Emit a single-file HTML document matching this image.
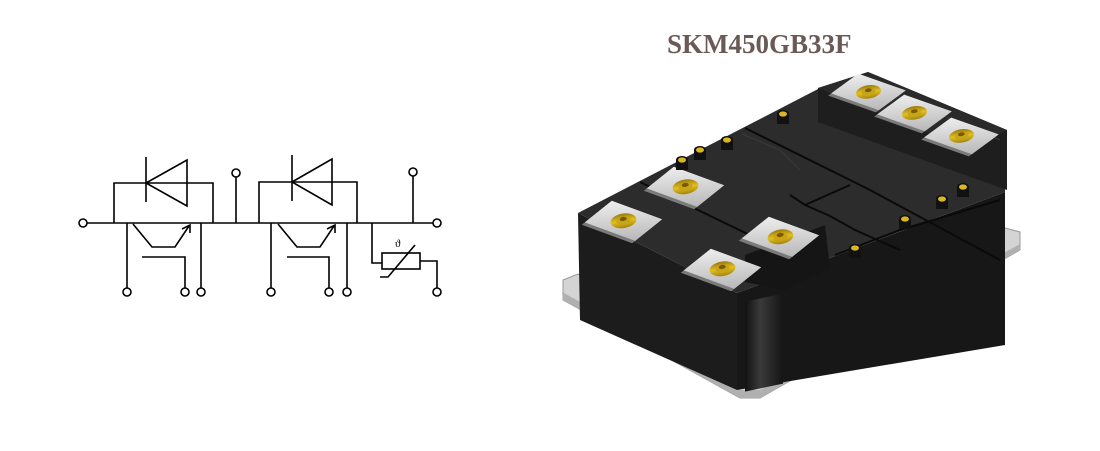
<!DOCTYPE html>
<html><head><meta charset="utf-8"><style>
html,body{margin:0;padding:0;background:#fff;}
body{width:1100px;height:451px;overflow:hidden;position:relative;}
</style></head><body>
<svg width="1100" height="451" viewBox="0 0 1100 451" xmlns="http://www.w3.org/2000/svg" style="position:absolute;left:0;top:0">
<defs>
<linearGradient id="gold" x1="0" y1="0" x2="1" y2="1"><stop offset="0" stop-color="#7a5a00"/><stop offset="0.5" stop-color="#e2c020"/><stop offset="1" stop-color="#8a6a05"/></linearGradient>
<linearGradient id="silv" x1="0" y1="0" x2="1" y2="1"><stop offset="0" stop-color="#eeeeee"/><stop offset="1" stop-color="#b8b8b8"/></linearGradient>
<linearGradient id="notch" x1="0" y1="0" x2="1" y2="0"><stop offset="0" stop-color="#111"/><stop offset="0.4" stop-color="#3a3a3a"/><stop offset="1" stop-color="#151515"/></linearGradient>
<g id="term"><rect x="-28" y="-16" width="56" height="36" fill="#7a7a7a"/><rect x="-28" y="-20" width="56" height="36" fill="url(#silv)"/><circle cx="0" cy="-2" r="11" fill="url(#gold)"/><circle cx="0" cy="-2" r="6" fill="#c8a418"/><circle cx="-2" cy="-4" r="3" fill="#7a5a00"/></g>
<g id="pin"><rect x="-6" y="0" width="12" height="10" fill="#111"/><ellipse cx="0" cy="0" rx="6" ry="4" fill="#111"/><ellipse cx="0" cy="0" rx="4" ry="2.6" fill="#d8b820"/></g>
</defs>
<text x="667" y="53" font-family="Liberation Serif, serif" font-weight="bold" font-size="27" fill="#6a5a56">SKM450GB33F</text>

<!-- schematic -->
<g stroke="#000" stroke-width="1.6" fill="none">
<line x1="87" y1="223" x2="433" y2="223"/>
<circle cx="83" cy="223" r="4" fill="#fff"/>
<circle cx="437" cy="223" r="4" fill="#fff"/>
<polyline points="114,223 114,183 213,183 213,223"/>
<line x1="146" y1="157" x2="146" y2="202"/>
<polygon points="146,183 187,160 187,206"/>
<polyline points="127,223 127,288"/>
<circle cx="127" cy="292" r="4" fill="#fff"/>
<polyline points="133,224 152,247 175,247 189,226"/>
<polyline points="182,229 190,225 190,233"/>
<polyline points="142,257 185,257 185,288"/>
<circle cx="185" cy="292" r="4" fill="#fff"/>
<line x1="201" y1="223" x2="201" y2="288"/>
<circle cx="201" cy="292" r="4" fill="#fff"/>
<line x1="236" y1="223" x2="236" y2="177"/>
<circle cx="236" cy="173" r="4" fill="#fff"/>
<polyline points="259,223 259,182 357,182 357,223"/>
<line x1="292" y1="155" x2="292" y2="201"/>
<polygon points="292,182 332,159 332,205"/>
<polyline points="271,223 271,288"/>
<circle cx="271" cy="292" r="4" fill="#fff"/>
<polyline points="278,224 297,247 320,247 334,226"/>
<polyline points="327,229 335,225 335,233"/>
<polyline points="287,257 329,257 329,288"/>
<circle cx="329" cy="292" r="4" fill="#fff"/>
<line x1="347" y1="223" x2="347" y2="288"/>
<circle cx="347" cy="292" r="4" fill="#fff"/>
<line x1="413" y1="223" x2="413" y2="176"/>
<circle cx="413" cy="172" r="4" fill="#fff"/>
<polyline points="372,223 372,263 382,263"/>
<rect x="382" y="253" width="38" height="16"/>
<polyline points="420,261 437,261 437,288"/>
<circle cx="437" cy="292" r="4" fill="#fff"/>
<polyline points="380,277 388,277 415,245"/>
</g>
<text x="395" y="247" font-family="Liberation Serif, serif" font-size="11">ϑ</text>

<!-- module -->
<polygon points="563,280 578,274 745,372 1005,228 1020,232 1020,250 760,398 740,398 563,300" fill="#d4d4d4" stroke="#999" stroke-width="1"/>
<polygon points="562,292 740,390 760,390 1020,244 1020,250 760,398 740,398 563,300" fill="#b0b0b0"/>
<polygon points="578,213 737,293 737,390 580,320" fill="#1c1c1c"/>
<polygon points="737,293 1005,192 1005,345 737,390" fill="#171717"/>
<rect x="745" y="300" width="38" height="90" fill="url(#notch)" transform="skewY(-12) translate(0,160)"/>
<polygon points="578,213 820,88 1005,178 1005,192 737,293" fill="#2c2c2c"/>
<polygon points="818,88 868,72 1007,130 1007,190 965,175 818,122" fill="#1e1e1e"/>
<polygon points="818,88 868,72 1007,130 965,148" fill="#2a2a2a"/>
<polygon points="745,255 825,225 830,268 785,290 745,282" fill="#151515"/>
<g stroke="#0a0a0a" stroke-width="2" fill="none">
<polyline points="640,182 760,240"/>
<polyline points="745,128 850,180 870,190 1000,260"/>
<polyline points="805,205 850,185"/>
<polyline points="790,195 805,205 830,216 855,230 900,250"/>
<polyline points="835,255 900,230 1000,200"/>
</g>
<g stroke="#3a3a3a" stroke-width="1" fill="none">
<polyline points="742,134 780,150 790,160 800,170"/>
<polyline points="860,80 1000,140"/>
</g>
<use href="#term" transform="matrix(0.9,0.33,-0.75,0.6,622,222)"/>
<use href="#term" transform="matrix(0.9,0.33,-0.75,0.6,721,270)"/>
<use href="#term" transform="matrix(0.9,0.33,-0.75,0.6,684,188)"/>
<use href="#term" transform="matrix(0.9,0.33,-0.75,0.6,779,238)"/>
<use href="#term" transform="matrix(0.85,0.3,-0.75,0.55,867,93)"/>
<use href="#term" transform="matrix(0.85,0.3,-0.75,0.55,913,114)"/>
<use href="#term" transform="matrix(0.85,0.3,-0.75,0.55,960,137)"/>
<use href="#pin" x="783" y="114"/>
<use href="#pin" x="727" y="140"/>
<use href="#pin" x="700" y="150"/>
<use href="#pin" x="682" y="160"/>
<use href="#pin" x="963" y="187"/>
<use href="#pin" x="942" y="199"/>
<use href="#pin" x="905" y="219"/>
<use href="#pin" x="855" y="248"/>
</svg>
</body></html>
